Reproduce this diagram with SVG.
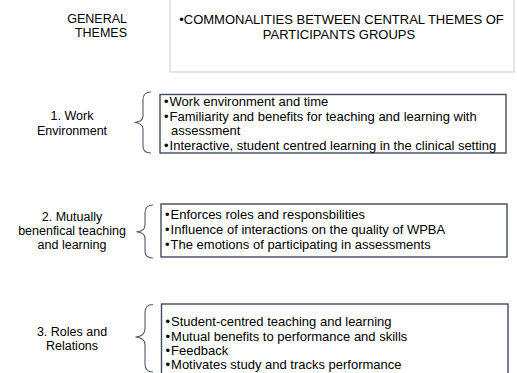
<svg xmlns="http://www.w3.org/2000/svg" width="517" height="373" viewBox="0 0 517 373">
<style>
  text { font-family: "Liberation Sans", Arial, sans-serif; fill: #000; }
  .lbl { font-size: 12.5px; text-anchor: middle; }
  .hdr { font-size: 12.5px; }
  .hdr2 { font-size: 13px; text-anchor: middle; }
  .item { font-size: 13px; }
  .box { fill: #fff; stroke: #3d4b5e; stroke-width: 1.4; }
  .hbox { fill: #fff; stroke: #d6d6d6; stroke-width: 1.2; }
  .brace { fill: none; stroke: #4a5a70; stroke-width: 1.1; }
</style>
<rect width="517" height="373" fill="#fff"/>

<g id="header">
  <rect class="hbox" x="170" y="-5" width="344" height="77"/>
  <text class="hdr" x="127" y="23" text-anchor="end">GENERAL</text>
  <text class="hdr" x="127" y="37" text-anchor="end">THEMES</text>
  <text class="hdr2" x="341.5" y="24">•COMMONALITIES BETWEEN CENTRAL THEMES OF</text>
  <text class="hdr2" x="339" y="38.5">PARTICIPANTS GROUPS</text>
</g>

<g id="theme1">
  <text class="lbl" x="72" y="120">1. Work</text>
  <text class="lbl" x="72" y="134.5">Environment</text>
</g>
<g id="items1">
  <rect class="box" x="160" y="94.5" width="346" height="58.5"/>
  <text class="item" x="164" y="105.5">•<tspan dx="1">Work environment and time</tspan></text>
  <text class="item" x="164" y="120.5">•<tspan dx="1">Familiarity and benefits for teaching and learning with</tspan></text>
  <text class="item" x="171" y="135">assessment</text>
  <text class="item" x="164" y="150">•<tspan dx="1">Interactive, student centred learning in the clinical setting</tspan></text>
</g>

<g id="theme2">
  <text class="lbl" x="72" y="221">2. Mutually</text>
  <text class="lbl" x="72" y="234.5">benenfical teaching</text>
  <text class="lbl" x="72" y="248.5">and learning</text>
</g>
<g id="items2">
  <rect class="box" x="161" y="204" width="346" height="53"/>
  <text class="item" x="165" y="218.5">•<tspan dx="1">Enforces roles and responsbilities</tspan></text>
  <text class="item" x="165" y="233.5">•<tspan dx="1">Influence of interactions on the quality of WPBA</tspan></text>
  <text class="item" x="165" y="249">•<tspan dx="1">The emotions of participating in assessments</tspan></text>
</g>

<g id="theme3">
  <text class="lbl" x="72" y="336">3. Roles and</text>
  <text class="lbl" x="72" y="350">Relations</text>
</g>
<g id="items3">
  <rect class="box" x="161.5" y="304" width="346.5" height="80"/>
  <text class="item" x="165.5" y="326">•<tspan dx="1">Student-centred teaching and learning</tspan></text>
  <text class="item" x="165.5" y="340.5">•<tspan dx="1">Mutual benefits to performance and skills</tspan></text>
  <text class="item" x="165.5" y="354.5">•<tspan dx="1">Feedback</tspan></text>
  <text class="item" x="165.5" y="368.5">•<tspan dx="1">Motivates study and tracks performance</tspan></text>
</g>

<g id="connectors">
  <path class="brace" d="M151 92 C145.5 92 143 94 143 100 L143 116 C143 120 140.5 122 134.5 122.5 C140.5 123 143 125 143 129 L143 146 C143 151 145.5 153 151 153"/>
  <path class="brace" d="M153 205 C147.5 205 145 207 145 213 L145 225 C145 229 142.5 231.5 136.5 231.8 C142.5 232.3 145 234.5 145 238.5 L145 251 C145 256 147.5 258 153 258"/>
  <path class="brace" d="M153 304.5 C147.5 304.5 145 306.5 145 313 L145 329 C145 333.5 142 336.5 135.5 337 C142 337.5 145 340.5 145 345 L145 364 C145 369.5 147.5 372 153 372"/>
</g>
</svg>
